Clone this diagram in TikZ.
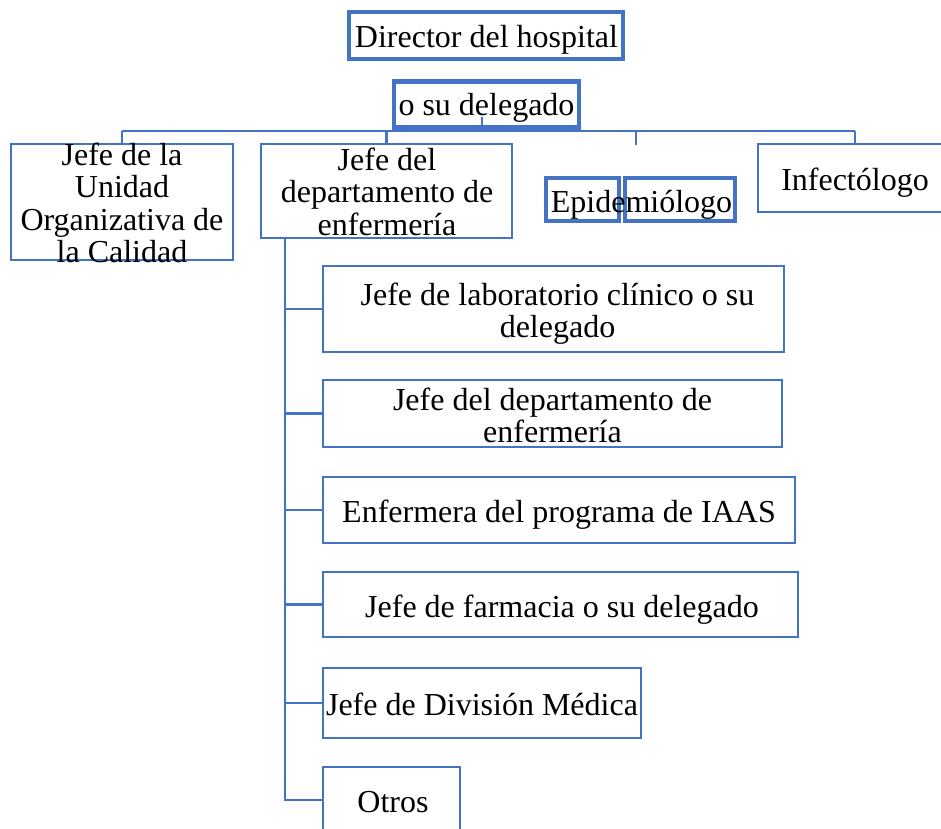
\documentclass[tikz,border=0pt]{standalone}
\usepackage{fontspec}
\setmainfont{Liberation Serif}
\usepackage{xcolor}
\definecolor{azul}{RGB}{68,114,196}

\begin{document}
\begin{tikzpicture}[x=1pt,y=-1pt,
  caja/.style={draw=azul,line width=2.5pt,inner sep=0pt},
  cajagruesa/.style={draw=azul,line width=4.5pt,inner sep=0pt},
  texto/.style={align=center,inner sep=0pt,anchor=base,font=\fontsize{32}{32.5}\selectfont},
  linea/.style={draw=azul,line width=2.5pt}]
\useasboundingbox (0,0) rectangle (941,828);

% cajas de arriba
\node[cajagruesa,minimum width=274pt,minimum height=47pt] (dir) at (486,35.5) {};
\node[cajagruesa,minimum width=185pt,minimum height=46pt] (deleg) at (486.5,104.5) {};
\node[caja,minimum width=222pt,minimum height=116pt] (cal) at (122,202) {};
\node[caja,minimum width=251pt,minimum height=94pt] (enf) at (386.5,191) {};
\node[cajagruesa,minimum width=73pt,minimum height=43pt] (epiA) at (582.5,199.5) {};
\node[cajagruesa,minimum width=110pt,minimum height=43pt] (epiB) at (680,199.5) {};
\node[caja,minimum width=194pt,minimum height=68pt] (inf) at (855,178) {};

% cajas del comite
\node[caja,minimum width=461pt,minimum height=86pt] (lab) at (553.5,309) {};
\node[caja,minimum width=459pt,minimum height=67pt] (enfdos) at (552.5,413.5) {};
\node[caja,minimum width=472pt,minimum height=66pt] (iaas) at (559,510) {};
\node[caja,minimum width=475pt,minimum height=65pt] (farm) at (560.5,604.5) {};
\node[caja,minimum width=318pt,minimum height=70pt] (div) at (482,703) {};
\node[caja,minimum width=137pt,minimum height=66pt] (otros) at (391.5,800) {};

% textos (base = ultima linea)
\node[texto] (tDir) at (486.5,47) {Director del hospital};
\node[texto] (tDeleg) at (486.5,115) {o su delegado};
\node[texto] (tCal) at (122,262.5) {Jefe de la\\Unidad\\Organizativa de\\la Calidad};
\node[texto] (tEnf) at (387,235) {Jefe del\\departamento de\\enfermería};
\node[texto] (tEpi) at (641.5,212) {Epidemiólogo};
\node[texto] (tInf) at (855,190) {Infectólogo};
\node[texto] (tLab) at (557.5,337.5) {Jefe de laboratorio clínico o su\\delegado};
\node[texto] (tEnfdos) at (552.5,442.5) {Jefe del departamento de\\enfermería};
\node[texto] (tIaas) at (559,522) {Enfermera del programa de IAAS};
\node[texto] (tFarm) at (562,617) {Jefe de farmacia o su delegado};
\node[texto] (tDiv) at (482,715) {Jefe de División Médica};
\node[texto] (tOtros) at (393,812) {Otros};

% lineas
\coordinate (busL) at (122,131);
\coordinate (busR) at (855,131);
\coordinate (stub) at (482,117);
\coordinate (epiTop) at (636,145);
\draw[linea] (busL) -- (busR);
\draw[linea] (stub) -- (stub |- busL);
\draw[linea] (busL) -- (cal.north);
\draw[linea] (enf.north |- busL) -- (enf.north);
\draw[linea] (epiTop |- busL) -- (epiTop);
\draw[linea] (busR) -- (inf.north);
\coordinate (tronco) at ([xshift=25pt]enf.south west);
\draw[linea] (tronco) |- (otros.west);
\foreach \h in {lab,enfdos,iaas,farm,div}
  \draw[linea] (tronco |- \h.west) -- (\h.west);
\end{tikzpicture}
\end{document}
